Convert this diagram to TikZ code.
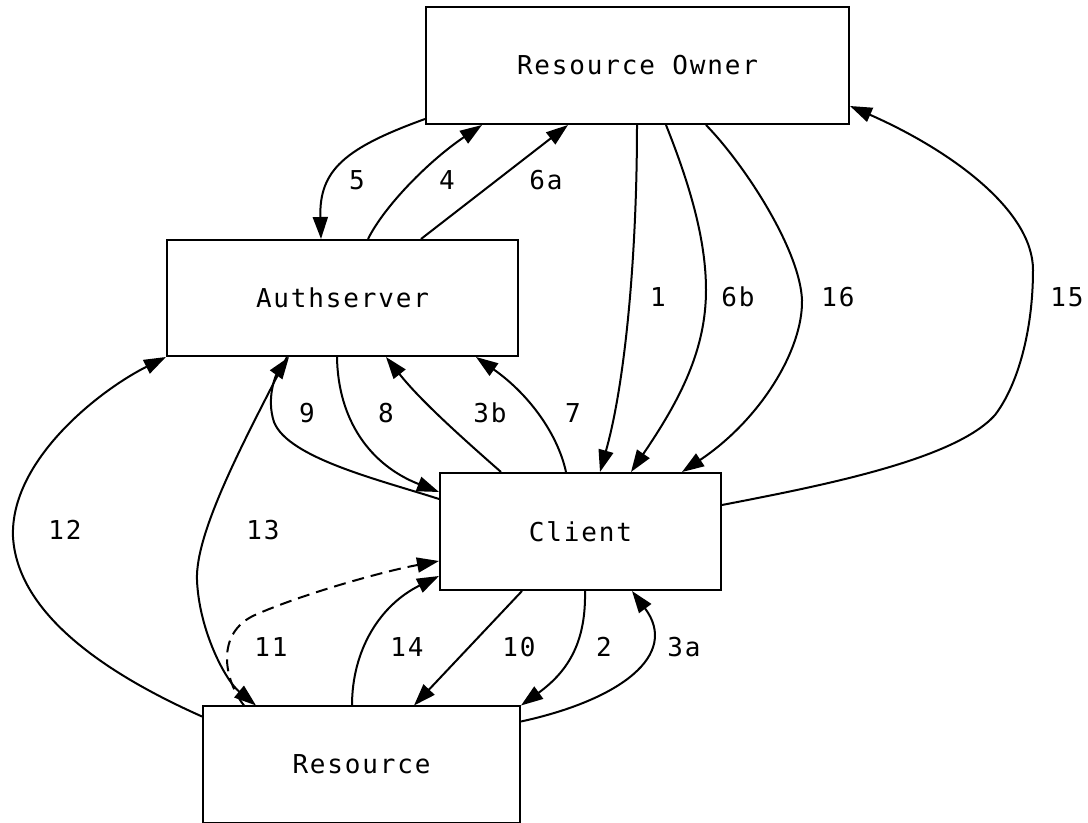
\documentclass[tikz,border=0pt]{standalone}
\usepackage{fontspec}
\newfontfamily\dotfont[LetterSpace=7]{DejaVu Sans Mono}
\usetikzlibrary{arrows.meta, calc}
\newcommand{\dotsize}{\dotfont\fontsize{13pt}{15pt}\selectfont}
\tikzset{
  box/.style={draw, line width=1pt, inner sep=0pt, font=\dotsize},
  lbl/.style={inner sep=0pt, font=\dotsize},
  flow/.style={line width=1pt, -{Triangle[length=11pt, width=7.5pt]}},
  maybe/.style={flow, dash pattern=on 6pt off 3.5pt},
}

\begin{document}
\begin{tikzpicture}[x=0.5pt, y=-0.5pt]
  \useasboundingbox (0,0) rectangle (1088,823);

  % parties
  \node[box, minimum width=211.5pt, minimum height=58.5pt] (ro) at (637.5,65.5) {Resource Owner};
  \node[box, minimum width=175.5pt, minimum height=58pt] (auth) at (342.5,298) {Authserver};
  \node[box, minimum width=140.5pt, minimum height=58.5pt] (client) at (580.5,531.5) {Client};
  \node[box, minimum width=158.5pt, minimum height=58pt] (res) at (361.5,764.5) {Resource};

  % owner <-> authserver
  \draw[flow] ($(ro.south west)+(0,-6)$) .. controls (345,148) and (319,170) .. ($(auth.north west)+(155,0)$);
  \draw[flow] ($(auth.north west)+(202,0)$) .. controls (385,205) and (430,160) .. ($(ro.south west)+(57,0)$);
  \draw[flow] ($(auth.north west)+(255,0)$) -- ($(ro.south west)+(143,0)$);

  % owner <-> client
  \draw[flow] ($(ro.south west)+(212,0)$) .. controls (637,250) and (626,380) .. ($(client.north west)+(161,0)$);
  \draw[flow] ($(ro.south west)+(241,0)$) .. controls (690,185) and (706,240) .. (706,290)
              .. controls (706,350) and (680,400) .. ($(client.north west)+(192,0)$);
  \draw[flow] ($(ro.south west)+(281,0)$) .. controls (745,165) and (800,250) .. (802,300)
              .. controls (803,350) and (760,420) .. ($(client.north west)+(243,0)$);
  \draw[flow] ($(client.north east)+(0,33)$) .. controls (820,486) and (955,460) .. (995,415)
              .. controls (1018,385) and (1033,330) .. (1033,270)
              .. controls (1033,210) and (950,150) .. ($(ro.north east)+(0,100)$);

  % client <-> authserver
  \draw[flow] ($(client.north west)+(62,0)$) .. controls (460,436) and (420,400) .. ($(auth.south west)+(220,0)$);
  \draw[flow] ($(client.north west)+(127,0)$) .. controls (558,435) and (530,395) .. ($(auth.south west)+(310,0)$);
  \draw[flow] ($(auth.south west)+(171,0)$) .. controls (338,420) and (370,465) .. ($(client.north west)+(0,20)$);
  \draw[flow] ($(client.north west)+(0,27)$) .. controls (380,480) and (288,458) .. (274,422)
              .. controls (266,398) and (276,375) .. ($(auth.south west)+(123,0)$);

  % resource <-> authserver
  \draw[flow] ($(auth.south west)+(121,0)$) .. controls (250,430) and (195,530) .. (197,580)
              .. controls (199,630) and (225,680) .. ($(res.north west)+(54,0)$);
  \draw[flow] ($(res.north west)+(0,11)$) .. controls (120,680) and (18,620) .. (13,537)
              .. controls (10,460) and (100,390) .. (auth.south west);

  % resource <-> client
  \draw[maybe] ($(res.north west)+(42,0)$) .. controls (224,680) and (215,633) .. (255,615)
               .. controls (300,595) and (380,572) .. ($(client.south west)+(0,-30)$);
  \draw[flow] ($(res.north west)+(150,0)$) .. controls (352,650) and (380,605) .. ($(client.south west)+(0,-15)$);
  \draw[flow] ($(client.south west)+(83,0)$) -- ($(res.north west)+(212,0)$);
  \draw[flow] ($(client.south west)+(146,0)$) .. controls (586,640) and (570,670) .. (res.north east);
  \draw[flow] ($(res.north east)+(0,16)$) .. controls (620,700) and (680,655) .. ($(client.south west)+(193,0)$);

  % step numbers
  \node[lbl] (l5) at (357,180) {5};
  \node[lbl] (l4) at (447,180) {4};
  \node[lbl] (l6a) at (546,180) {6a};
  \node[lbl] (l1) at (658,297) {1};
  \node[lbl] (l6b) at (738,297) {6b};
  \node[lbl] (l16) at (838,297) {16};
  \node[lbl] (l15) at (1067,297) {15};
  \node[lbl] (l9) at (307,413) {9};
  \node[lbl] (l8) at (386,413) {8};
  \node[lbl] (l3b) at (490,413) {3b};
  \node[lbl] (l7) at (573,413) {7};
  \node[lbl] (l12) at (65,530) {12};
  \node[lbl] (l13) at (263,530) {13};
  \node[lbl] (l11) at (271,647) {11};
  \node[lbl] (l14) at (407,647) {14};
  \node[lbl] (l10) at (519,647) {10};
  \node[lbl] (l2) at (604,647) {2};
  \node[lbl] (l3a) at (684,647) {3a};
\end{tikzpicture}
\end{document}
